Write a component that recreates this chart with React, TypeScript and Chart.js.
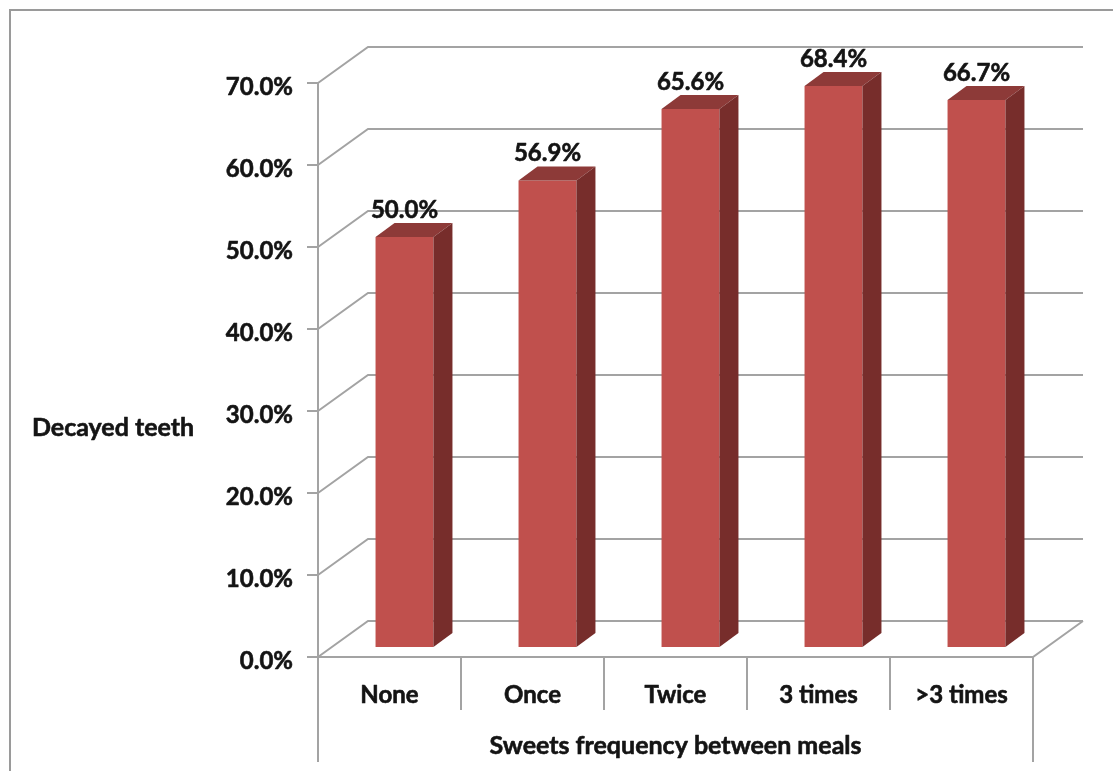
import React, { useEffect, useRef } from "react";
import { Chart, registerables } from "chart.js";

Chart.register(...registerables);

// Share of children with decayed teeth by how often they eat sweets between meals
const categories = ["None", "Once", "Twice", "3 times", ">3 times"];
const decayedPct = [50.0, 56.9, 65.6, 68.4, 66.7];
const yTicks = [0, 10, 20, 30, 40, 50, 60, 70];
const yAxisTitle = "Decayed teeth";
const xAxisTitle = "Sweets frequency between meals";

const W = 1113;
const H = 771;

// oblique projection of the depth axis
const WALL_DX = 50;
const WALL_DY = -36;
const BAR_DX = 15;
const BAR_DY = -10;
const SIDE_DX = 19;
const SIDE_DY = -14;

const GRID = "#a3a3a3";
const FRAME = "#9a9a9a";
const TEXT = "#141414";
const BAR_FRONT = "#c0504d";
const BAR_TOP = "#8d3a38";
const BAR_SIDE = "#772d2b";

const FONT = (size: number) => `bold ${size}px Lato, "Open Sans", sans-serif`;

const pct = (v: number) => `${v.toFixed(1)}%`;

// slightly heavier text than the plain bold face
function boldText(ctx: CanvasRenderingContext2D, s: string, x: number, y: number) {
  ctx.fillText(s, x, y);
  ctx.strokeText(s, x, y);
}

const box3d = {
  id: "box3d",
  beforeDatasetsDraw(chart: any) {
    const { ctx, chartArea, scales } = chart;
    const xs = scales.x;
    const ys = scales.y;
    const left = chartArea.left;
    const right = chartArea.right;
    const base = ys.getPixelForValue(0);
    const top = ys.getPixelForValue(yTicks[yTicks.length - 1]);
    const step = (right - left) / categories.length;

    ctx.save();
    ctx.lineCap = "butt";

    // outer chart border
    ctx.strokeStyle = FRAME;
    ctx.lineWidth = 2;
    ctx.beginPath();
    ctx.moveTo(10, H);
    ctx.lineTo(10, 10);
    ctx.lineTo(W, 10);
    ctx.stroke();

    ctx.strokeStyle = GRID;
    ctx.lineWidth = 2;

    // back wall gridlines, bent back from the value axis
    ctx.beginPath();
    yTicks.forEach((v) => {
      const py = ys.getPixelForValue(v);
      ctx.moveTo(left, py);
      ctx.lineTo(left + WALL_DX, py + WALL_DY);
      ctx.lineTo(right + WALL_DX, py + WALL_DY);
    });
    // floor front edge and right edge
    ctx.moveTo(left, base);
    ctx.lineTo(right, base);
    ctx.lineTo(right + WALL_DX, base + WALL_DY);
    ctx.stroke();

    // value axis with tick marks, continuing down as the category box
    ctx.beginPath();
    ctx.moveTo(left, top);
    ctx.lineTo(left, base + 105);
    yTicks.forEach((v) => {
      const py = ys.getPixelForValue(v);
      ctx.moveTo(left - 11, py);
      ctx.lineTo(left, py);
    });
    categories.forEach((_, i) => {
      if (i === 0) return;
      const bx = xs.getPixelForValue(i) - step / 2;
      ctx.moveTo(bx, base);
      ctx.lineTo(bx, base + 53);
    });
    ctx.moveTo(right, base);
    ctx.lineTo(right, base + 105);
    ctx.stroke();

    ctx.fillStyle = TEXT;
    ctx.strokeStyle = TEXT;
    ctx.lineWidth = 0.6;
    ctx.lineJoin = "round";
    ctx.font = FONT(24);

    // tick labels
    ctx.textAlign = "right";
    ctx.textBaseline = "middle";
    yTicks.forEach((v) => {
      boldText(ctx, pct(v), left - 25, ys.getPixelForValue(v) + 4);
    });

    // category labels
    ctx.textAlign = "center";
    categories.forEach((c, i) => {
      boldText(ctx, c, xs.getPixelForValue(i), base + 38);
    });

    // axis titles
    ctx.font = FONT(25);
    boldText(ctx, xAxisTitle, (left + right) / 2, base + 89);
    ctx.textAlign = "left";
    boldText(ctx, yAxisTitle, 32, 428);

    ctx.restore();

    // bars sit a little way into the depth of the floor
    ctx.save();
    ctx.translate(BAR_DX, BAR_DY);
  },
  afterDatasetsDraw(chart: any) {
    const { ctx } = chart;
    ctx.restore();

    const meta = chart.getDatasetMeta(0);
    ctx.save();
    meta.data.forEach((bar: any, i: number) => {
      const { x, y, base, width } = bar.getProps(["x", "y", "base", "width"], true);
      const l = x - width / 2 + BAR_DX;
      const r = x + width / 2 + BAR_DX;
      const t = y + BAR_DY;
      const b = base + BAR_DY;

      // top face
      ctx.fillStyle = BAR_TOP;
      ctx.beginPath();
      ctx.moveTo(l, t);
      ctx.lineTo(l + SIDE_DX, t + SIDE_DY);
      ctx.lineTo(r + SIDE_DX, t + SIDE_DY);
      ctx.lineTo(r, t);
      ctx.closePath();
      ctx.fill();

      // right side face
      ctx.fillStyle = BAR_SIDE;
      ctx.beginPath();
      ctx.moveTo(r, t);
      ctx.lineTo(r + SIDE_DX, t + SIDE_DY);
      ctx.lineTo(r + SIDE_DX, b + SIDE_DY);
      ctx.lineTo(r, b);
      ctx.closePath();
      ctx.fill();

      // value label
      ctx.fillStyle = TEXT;
      ctx.strokeStyle = TEXT;
      ctx.lineWidth = 0.6;
      ctx.lineJoin = "round";
      ctx.font = FONT(24);
      ctx.textAlign = "center";
      ctx.textBaseline = "alphabetic";
      boldText(ctx, pct(decayedPct[i]), (l + r) / 2, t + SIDE_DY - 5);
    });
    ctx.restore();
  },
};

export default function App() {
  const canvasRef = useRef<HTMLCanvasElement | null>(null);

  useEffect(() => {
    const canvas = canvasRef.current;
    if (!canvas) return;
    const chart = new Chart(canvas, {
      type: "bar",
      data: {
        labels: categories,
        datasets: [
          {
            label: yAxisTitle,
            data: decayedPct,
            backgroundColor: BAR_FRONT,
            borderWidth: 0,
            categoryPercentage: 1,
            barPercentage: 0.405,
          },
        ],
      },
      options: {
        responsive: false,
        animation: false,
        devicePixelRatio: 1,
        layout: { padding: { left: 318, right: 80, top: 83, bottom: 114 } },
        plugins: {
          legend: { display: false },
          tooltip: { enabled: false },
        },
        scales: {
          x: { display: false },
          y: { display: false, min: 0, max: 70 },
        },
      },
      plugins: [box3d],
    });
    return () => chart.destroy();
  }, []);

  return (
    <div
      style={{
        position: "fixed",
        left: 0,
        top: 0,
        width: W,
        height: H,
        background: "#ffffff",
      }}
    >
      <canvas ref={canvasRef} width={W} height={H} style={{ width: W, height: H, display: "block" }} />
    </div>
  );
}
